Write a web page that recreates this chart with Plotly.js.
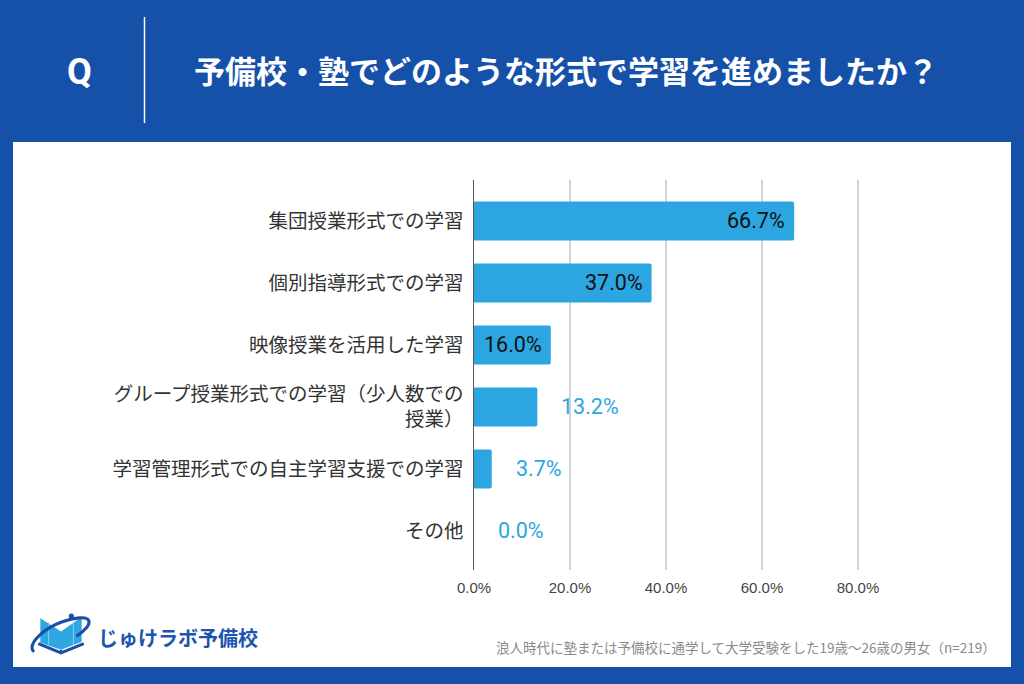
<!DOCTYPE html>
<html>
<head>
<meta charset="utf-8">
<script src="https://cdn.plot.ly/plotly-3.0.1.min.js"></script>
<style>html,body{margin:0;padding:0;background:#1550a9;}#chart{width:1024px;height:684px;}</style>
</head>
<body>
<div id="chart"></div>
<script>
// ---- data ----
const categories = [
  '集団授業形式での学習',
  '個別指導形式での学習',
  '映像授業を活用した学習',
  'グループ授業形式での学習（少人数での<br>授業）',
  '学習管理形式での自主学習支援での学習',
  'その他'
];
const values = [66.7, 37.0, 16.0, 13.2, 3.7, 0.0];
const labelInside = [true, true, true, false, false, false];
const tickValues = [0, 20, 40, 60, 80];
const tickLabels = ['0.0%', '20.0%', '40.0%', '60.0%', '80.0%'];
const titleText = '予備校・塾でどのような形式で学習を進めましたか？';
const footnoteText = '浪人時代に塾または予備校に通学して大学受験をした19歳〜26歳の男女（n=219）';
const logoText = 'じゅけラボ予備校';

// ---- layout helpers (pixel -> paper) ----
const L = 474, R = 142, T = 180, B = 114, W = 1024, H = 684;
const pw = W - L - R, ph = H - T - B;
const px = p => (p - L) / pw;
const py = p => (H - B - p) / ph;

const barColor = '#2ca6e0';
const darkBlue = '#1550a9';
const jp = '"Noto Sans CJK JP", "Noto Sans", sans-serif';

const trace = {
  type: 'bar',
  orientation: 'h',
  x: values,
  y: categories,
  marker: {color: barColor, cornerradius: 2},
  hoverinfo: 'skip'
};

const annotations = [];
values.forEach((v, i) => {
  const inside = labelInside[i];
  annotations.push({
    x: v, y: categories[i], xref: 'x', yref: 'y',
    text: v.toFixed(1) + '%',
    showarrow: false,
    xanchor: inside ? 'right' : 'left',
    yanchor: 'middle',
    xshift: inside ? -7 : 22,
    font: {family: 'Roboto, sans-serif', size: 21.5, color: inside ? '#111111' : barColor}
  });
});
annotations.push({
  x: px(79), y: py(72), xref: 'paper', yref: 'paper', text: 'Q', showarrow: false,
  xanchor: 'center', yanchor: 'middle',
  font: {family: 'Roboto, sans-serif', size: 36, color: '#ffffff', weight: 'bold'}
});
annotations.push({
  x: px(566), y: py(70), xref: 'paper', yref: 'paper', text: titleText, showarrow: false,
  xanchor: 'center', yanchor: 'middle',
  font: {family: jp, size: 31, color: '#ffffff', weight: 'bold'}
});
annotations.push({
  x: px(96), y: py(637), xref: 'paper', yref: 'paper', text: logoText, showarrow: false,
  xanchor: 'left', yanchor: 'middle',
  font: {family: jp, size: 20, color: '#1a55ae', weight: 'bold'}
});
annotations.push({
  x: px(998), y: py(647), xref: 'paper', yref: 'paper', text: footnoteText, showarrow: false,
  xanchor: 'right', yanchor: 'middle',
  font: {family: jp, size: 13.5, color: '#8a8a8a'}
});

const svg = "<svg xmlns='http://www.w3.org/2000/svg' viewBox='0 0 60 44'>" +
  "<path d='M10 6 L30 19 L50 5 L50 29 L30 37 L10 30 Z' fill='#2ea8e0'/>" +
  "<path d='M18 10 L18 32' stroke='#7fd0f2' stroke-width='1'/>" +
  "<path d='M42 10 L42 32' stroke='#7fd0f2' stroke-width='1'/>" +
  "<path d='M8 31 L30 40 L52 31' fill='none' stroke='#1a4fa8' stroke-width='3'/>" +
  "<path d='M30 37 L30 41' stroke='#1a4fa8' stroke-width='2'/>" +
  "<path d='M3 38 C-2 30 14 16 30 10 C44 5 56 4 57 9 C58 13 52 19 46 23' fill='none' stroke='#1a4fa8' stroke-width='3' stroke-linecap='round'/>" +
  "<circle cx='40' cy='4' r='2.5' fill='#1a4fa8'/>" +
  "</svg>";

const layout = {
  width: W, height: H,
  margin: {l: L, r: R, t: T, b: B, pad: 0},
  paper_bgcolor: darkBlue,
  plot_bgcolor: '#ffffff',
  showlegend: false,
  bargap: 0.37,
  xaxis: {
    range: [0, 85],
    tickvals: tickValues,
    ticktext: tickLabels,
    showgrid: true, gridcolor: '#d4d4d4', gridwidth: 1.2,
    zeroline: false, showline: false, ticks: '',
    ticklabelstandoff: 7,
    tickfont: {family: '"Liberation Sans", Arial, sans-serif', size: 15, color: '#444444'},
    fixedrange: true
  },
  yaxis: {
    type: 'category',
    categoryorder: 'array', categoryarray: categories,
    range: [5.63, -0.66],
    showline: true, linecolor: '#555555', linewidth: 1.5,
    showgrid: false, zeroline: false, ticks: '',
    ticklabelstandoff: 5,
    tickfont: {family: jp, size: 19.5, color: '#333333'},
    fixedrange: true
  },
  shapes: [
    {type: 'rect', xref: 'paper', yref: 'paper', x0: px(13), x1: px(1011), y0: py(142), y1: py(667),
     fillcolor: '#ffffff', line: {width: 0}, layer: 'below'},
    {type: 'line', xref: 'paper', yref: 'paper', x0: px(144.5), x1: px(144.5), y0: py(17), y1: py(123),
     line: {color: '#ffffff', width: 1.5}, layer: 'above'}
  ],
  images: [{
    source: 'data:image/svg+xml;charset=utf-8,' + encodeURIComponent(svg),
    xref: 'paper', yref: 'paper', x: px(30), y: py(612), sizex: 62 / pw, sizey: 45 / ph,
    xanchor: 'left', yanchor: 'top', sizing: 'stretch', layer: 'above'
  }],
  annotations: annotations
};

Plotly.newPlot('chart', [trace], layout, {displayModeBar: false, staticPlot: true});
</script>
</body>
</html>
